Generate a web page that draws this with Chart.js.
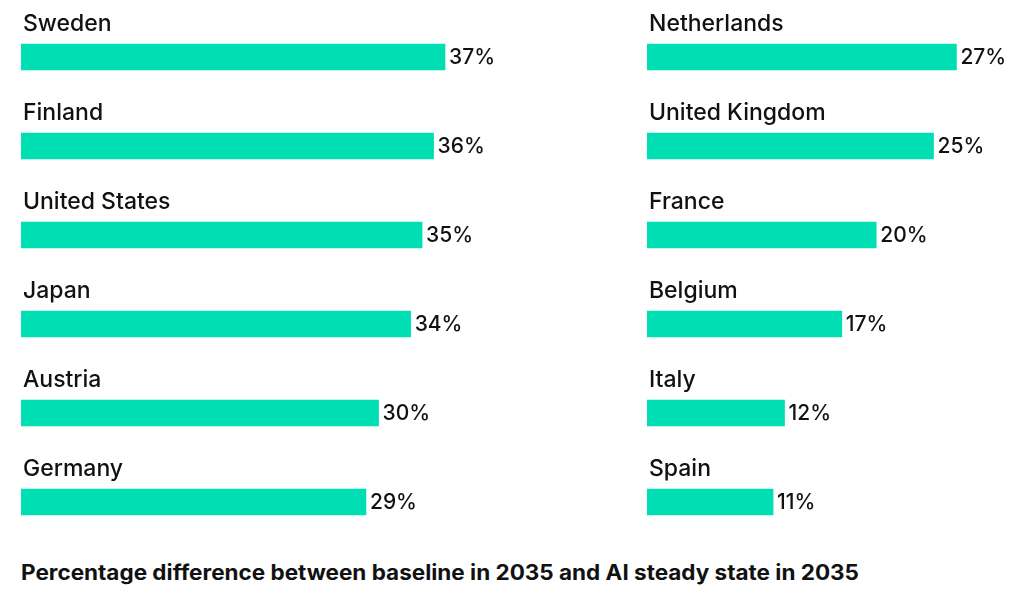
<!DOCTYPE html>
<html>
<head>
<meta charset="utf-8">
<script src="https://cdn.jsdelivr.net/npm/chart.js@4.4.1/dist/chart.umd.min.js"></script>
<style>
  html, body { margin: 0; padding: 0; background: #fff; width: 1024px; height: 598px; overflow: hidden; }
  canvas { position: absolute; top: 0; }
  #leftChart { left: 0; }
  #rightChart { left: 512px; }
  #title {
    position: absolute; left: 21px; top: 560px; white-space: nowrap;
    font-family: Inter, 'Noto Sans', sans-serif; font-weight: 700; font-size: 21px;
    color: #111; transform-origin: left top;
  }
</style>
</head>
<body>
<canvas id="leftChart" width="512" height="560"></canvas>
<canvas id="rightChart" width="512" height="560"></canvas>
<div id="title">Percentage difference between baseline in 2035 and AI steady state in 2035</div>
<script>
// left column
const leftCountries = ['Sweden', 'Finland', 'United States', 'Japan', 'Austria', 'Germany'];
const leftValues = [37, 36, 35, 34, 31.2, 30.1];   // bar lengths
const leftLabels = ['37%', '36%', '35%', '34%', '30%', '29%'];

// right column
const rightCountries = ['Netherlands', 'United Kingdom', 'France', 'Belgium', 'Italy', 'Spain'];
const rightValues = [27, 25, 20, 17, 12, 11];
const rightLabels = ['27%', '25%', '20%', '17%', '12%', '11%'];

const barColor = '#00DEB4';
const textColor = '#111111';
const nameFont = '500 23px Inter, "Noto Sans", sans-serif';
const valueFont = '500 21px Inter, "Noto Sans", sans-serif';

// draws the country name above each bar and the value at its end
const barTextPlugin = {
    id: 'barText',
    afterDatasetsDraw(chart, args, opts) {
        const ctx = chart.ctx;
        const meta = chart.getDatasetMeta(0);
        ctx.save();
        ctx.fillStyle = textColor;
        meta.data.forEach((bar, i) => {
            const top = bar.y - bar.height / 2;
            ctx.textAlign = 'left';
            ctx.textBaseline = 'alphabetic';
            ctx.font = nameFont;
            ctx.fillText(chart.data.labels[i], bar.base + 2, top - 13);
            ctx.textBaseline = 'middle';
            ctx.font = valueFont;
            ctx.fillText(opts.valueLabels[i], bar.x + 4, bar.y + 1);
        });
        ctx.restore();
    }
};

function makeChart(id, labels, values, valueLabels, max, padLeft, padRight) {
    return new Chart(document.getElementById(id), {
        type: 'bar',
        data: {
            labels: labels,
            datasets: [{
                data: values,
                backgroundColor: barColor,
                borderWidth: 0,
                barThickness: 26
            }]
        },
        options: {
            indexAxis: 'y',
            responsive: false,
            animation: false,
            layout: { padding: { left: padLeft, right: padRight, top: 12.5, bottom: 13.5 } },
            scales: {
                x: { min: 0, max: max, display: false },
                y: { display: false }
            },
            plugins: {
                legend: { display: false },
                tooltip: { enabled: false },
                barText: { valueLabels: valueLabels }
            }
        },
        plugins: [barTextPlugin]
    });
}

makeChart('leftChart', leftCountries, leftValues, leftLabels, 40, 21, 32.6);
makeChart('rightChart', rightCountries, rightValues, rightLabels, 30, 135, 33.2);

// stretch the footer title to the width it has in the original
const title = document.getElementById('title');
const w = title.getBoundingClientRect().width;
title.style.transform = 'scaleX(' + (838 / w) + ')';
</script>
</body>
</html>
